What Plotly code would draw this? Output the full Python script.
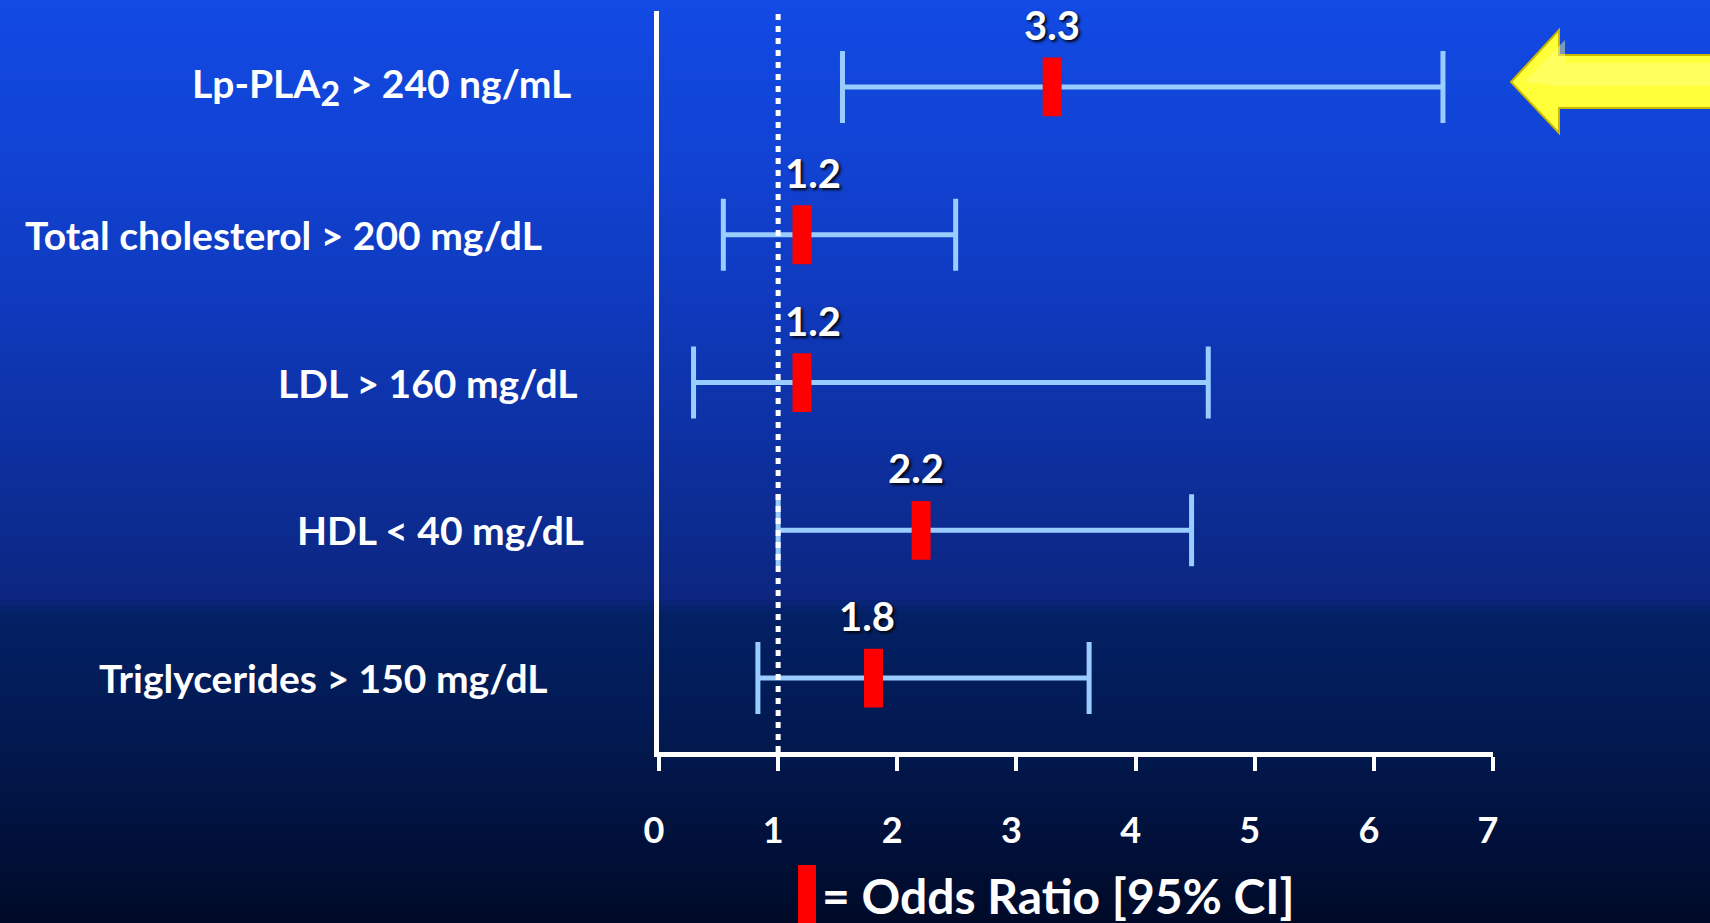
import plotly.graph_objects as go

# Forest plot: odds ratios with 95% confidence intervals
categories = [
    "Lp-PLA<sub><span style='font-size:34px'>2</span></sub> > 240 ng/mL",
    "Total cholesterol > 200 mg/dL",
    "LDL > 160 mg/dL",
    "HDL < 40 mg/dL",
    "Triglycerides > 150 mg/dL",
]
odds_ratio = [3.3, 1.2, 1.2, 2.2, 1.8]
ci_low = [1.54, 0.54, 0.29, 1.0, 0.83]
ci_high = [6.58, 2.49, 4.61, 4.47, 3.61]
or_labels = ["3.3", "1.2", "1.2", "2.2", "1.8"]
tick_values = [0, 1, 2, 3, 4, 5, 6, 7]
tick_labels = ["0", "1", "2", "3", "4", "5", "6", "7"]
reference_or = 1

W, H = 1710, 923
n = len(categories)
rows = [n - i for i in range(n)]  # top row first

FONT = "Lato"

fig = go.Figure()

# CI whiskers plus red odds-ratio bars (line-ns length = 1.4 * size)
fig.add_trace(go.Scatter(
    x=odds_ratio,
    y=rows,
    mode="markers",
    marker=dict(symbol="line-ns", size=42, color="#FF0000",
                line=dict(color="#FF0000", width=19)),
    error_x=dict(
        type="data", symmetric=False,
        array=[h - o for h, o in zip(ci_high, odds_ratio)],
        arrayminus=[o - l for o, l in zip(odds_ratio, ci_low)],
        color="#99CCFF", thickness=5, width=36,
    ),
    hoverinfo="skip",
    showlegend=False,
))

# background gradient (bright blue to navy)
stops = [
    (0, (18, 74, 228)),
    (150, (17, 67, 212)),
    (300, (15, 58, 190)),
    (450, (13, 48, 160)),
    (598, (12, 38, 128)),
    (612, (3, 33, 102)),
    (750, (2, 24, 78)),
    (923, (0, 10, 40)),
]


def color_at(py):
    for (y0, c0), (y1, c1) in zip(stops[:-1], stops[1:]):
        if y0 <= py <= y1:
            t = (py - y0) / (y1 - y0) if y1 > y0 else 0
            return "rgb(%d,%d,%d)" % tuple(round(a + (b - a) * t) for a, b in zip(c0, c1))
    return "rgb(%d,%d,%d)" % stops[-1][1]


shapes = []
step = 6
for py in range(0, H, step):
    shapes.append(dict(
        type="rect", xref="paper", yref="paper", layer="below",
        x0=-0.01, x1=1.01, y0=1 - (py + step + 1) / H, y1=1 - py / H,
        fillcolor=color_at(py + step / 2), line=dict(width=0),
    ))

# dotted reference line at OR = 1
shapes.append(dict(
    type="line", xref="x", yref="paper",
    x0=reference_or, x1=reference_or, y0=1 - 752 / H, y1=1 - 11 / H,
    line=dict(color="white", width=5, dash="6px,6px"),
))


def px(x, y):
    return "%.5f %.5f" % (x / W, 1 - y / H)


# yellow arrow pointing at the first row
arrow_pts = [(1511, 82), (1559, 30), (1559, 55), (1712, 55), (1712, 108), (1559, 108), (1559, 133)]
shapes.append(dict(
    type="path", xref="paper", yref="paper",
    path="M " + " L ".join(px(*p) for p in arrow_pts) + " Z",
    fillcolor="#FFFF3A", line=dict(color="#C9B800", width=2),
))
highlight_pts = [(1524, 82), (1565, 40), (1565, 63), (1712, 63), (1712, 86), (1560, 86)]
shapes.append(dict(
    type="path", xref="paper", yref="paper",
    path="M " + " L ".join(px(*p) for p in highlight_pts) + " Z",
    fillcolor="rgba(255,255,140,0.45)", line=dict(width=0),
))

# legend key: red bar
shapes.append(dict(
    type="rect", xref="paper", yref="paper",
    x0=798 / W, x1=816 / W, y0=0, y1=1 - 865 / H,
    fillcolor="#FF0000", line=dict(width=0),
))

annotations = []

# row labels on the left
label_center_x = [381, 283, 428, 440, 323]
for r, text, cx in zip(rows, categories, label_center_x):
    annotations.append(dict(
        x=cx / W, xref="paper", y=r, yref="y",
        text=text, showarrow=False, xanchor="center", yanchor="middle",
        font=dict(family=FONT, size=39, color="white", weight="bold"),
    ))

# odds ratio value labels above each bar
label_xshift = [0, 11, 11, -5, -6]
for r, o, t, xs in zip(rows, odds_ratio, or_labels, label_xshift):
    annotations.append(dict(
        x=o, xref="x", y=r, yref="y",
        text=t, showarrow=False, xanchor="center", yanchor="middle",
        xshift=xs, yshift=62,
        font=dict(family=FONT, size=40, color="white", weight="bold",
                  shadow="2px 2px 3px rgba(0,0,0,0.9)"),
    ))

# legend text
annotations.append(dict(
    x=820 / W, xref="paper", y=1 - 895 / H, yref="paper",
    text="= Odds Ratio [95% CI]", showarrow=False,
    xanchor="left", yanchor="middle",
    font=dict(family=FONT, size=48, color="white", weight="bold"),
))

fig.update_layout(
    width=W, height=H, autosize=False,
    margin=dict(l=0, r=0, t=0, b=0, pad=0, autoexpand=False),
    paper_bgcolor="rgb(18,74,228)",
    plot_bgcolor="rgba(0,0,0,0)",
    shapes=shapes,
    annotations=annotations,
    xaxis=dict(
        domain=[659 / W, 1493 / W],
        range=[0, 7],
        automargin=False,
        tickmode="array", tickvals=tick_values, ticktext=tick_labels,
        showgrid=False, zeroline=False,
        showline=True, linecolor="white", linewidth=5,
        ticks="outside", ticklen=14, tickwidth=4, tickcolor="white",
        ticklabelstandoff=29, ticklabelshift=-5,
        tickfont=dict(family=FONT, size=36, color="white", weight="bold"),
        fixedrange=True,
    ),
    yaxis=dict(
        domain=[1 - 752 / H, 1 - 11 / H],
        range=[0.5, n + 0.514],
        automargin=False,
        showgrid=False, zeroline=False, showticklabels=False,
        showline=True, linecolor="white", linewidth=5,
        fixedrange=True,
    ),
)

page_fix = (
    "document.body.style.margin='0';"
    "document.body.style.padding='0';"
    "document.body.style.overflow='hidden';"
    "Plotly.relayout('{plot_id}', {width: %d, height: %d});" % (W, H)
)

fig.write_html("out.html", config={"responsive": False, "displayModeBar": False},
               post_script=page_fix)
